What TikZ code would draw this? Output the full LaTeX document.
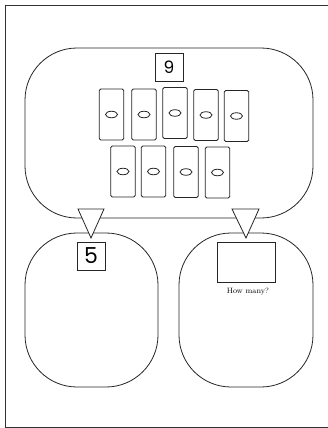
\documentclass[tikz,border=0pt]{standalone}
\usepackage{fontspec}
\newfontfamily\numfont{Poppins}
\usetikzlibrary{shapes.geometric}
\begin{document}
\begin{tikzpicture}[x=1pt,y=-1pt,
  ink/.style={draw=black!85,line width=0.8pt},
  bubble/.style={ink,rounded corners=52pt},
  card/.style={ink,rounded corners=1.5pt,minimum width=24.5pt,minimum height=51pt,inner sep=0pt},
  hole/.style={ink,ellipse,minimum width=12pt,minimum height=6.5pt,inner sep=0pt},
  numbox/.style={ink,line width=0.7pt,minimum width=28pt,minimum height=28pt,inner sep=0pt},
  pointer/.style={ink,fill=white,line join=miter}]
\useasboundingbox (0,0) rectangle (328,428);
\fill[white] (0,0) rectangle (328,428);
% page frame (open on the right)
\draw[line width=0.9pt,black!80] (328,5) -- (5,5) -- (5,427) -- (328,427);

% whole set
\draw[bubble] (25,48) rectangle (313,218);
\node[numbox] (total) at (169,67) {\numfont\fontsize{17}{17}\selectfont 9};

% counters
\foreach \n/\x/\y in {1/111.5/114.5, 2/144/114.5, 3/175/113, 4/206/115, 5/236.5/116,
                      6/123/171.5, 7/153.5/171.5, 8/186/172, 9/217.5/172.5}{
  \node[card] (c\n) at (\x,\y) {};
  \node[hole] (h\n) at (c\n.center) {};
}

% the two parts
\draw[bubble] (25,233) rectangle (158,387);
\draw[bubble] (179,233) rectangle (313,387);

% pointers from the whole to each part
\draw[pointer] (78,209) -- (104,209) -- (91,238) -- cycle;
\draw[pointer] (232,209) -- (259,209) -- (246,238) -- cycle;

\node[numbox] (part) at (91,256) {\numfont\fontsize{22}{22}\selectfont 5};
\node[ink,line width=0.7pt,minimum width=58pt,minimum height=40pt,inner sep=0pt] (answer) at (246,262) {};
\node[font=\fontsize{7.7}{8}\selectfont,inner sep=0pt] (ask) at (248,292) {How many?};
\end{tikzpicture}
\end{document}
